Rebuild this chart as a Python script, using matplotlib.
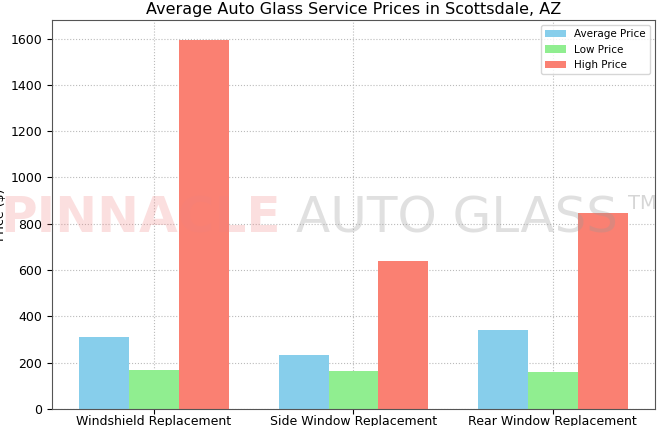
import matplotlib
matplotlib.use("Agg")
import matplotlib.pyplot as plt
import numpy as np

categories = ["Windshield Replacement", "Side Window Replacement", "Rear Window Replacement"]
avg_price = [310, 235, 340]
low_price = [170, 165, 160]
high_price = [1595, 640, 845]

fig = plt.figure(figsize=(6.65, 4.26), dpi=100)
ax = fig.add_axes([0.078, 0.038, 0.907, 0.915])
x = np.arange(len(categories))
w = 0.25
ax.bar(x - w, avg_price, w, color="skyblue", label="Average Price")
ax.bar(x, low_price, w, color="lightgreen", label="Low Price")
ax.bar(x + w, high_price, w, color="salmon", label="High Price")
ax.set_xticks(x)
ax.set_xticklabels(categories, fontsize=9)
ax.tick_params(axis="x", pad=1)
ax.set_ylabel("Price ($)", fontsize=9, labelpad=2)
ax.set_title("Average Auto Glass Service Prices in Scottsdale, AZ", fontsize=11.5, pad=4)
ax.set_ylim(0, 1680)
ax.tick_params(labelsize=9)
ax.grid(True, linestyle=":", color="#bbbbbb")
ax.set_axisbelow(True)
ax.legend(fontsize=7.5, loc="upper right")
for s in ax.spines.values():
    s.set_color("#555555")

fig.text(0.0, 0.455, "PINNACLE", fontsize=36, fontweight="bold", color="#f08080", alpha=0.25, zorder=0)
fig.text(0.445, 0.455, "AUTO GLASS", fontsize=36, color="#999999", alpha=0.3, zorder=0)
fig.text(0.945, 0.51, "TM", fontsize=14, color="#999999", alpha=0.4, zorder=0)

fig.subplots_adjust()
ax.set_position([0.078, 0.04, 0.907, 0.913])
fig.savefig("out.png", dpi=100)
